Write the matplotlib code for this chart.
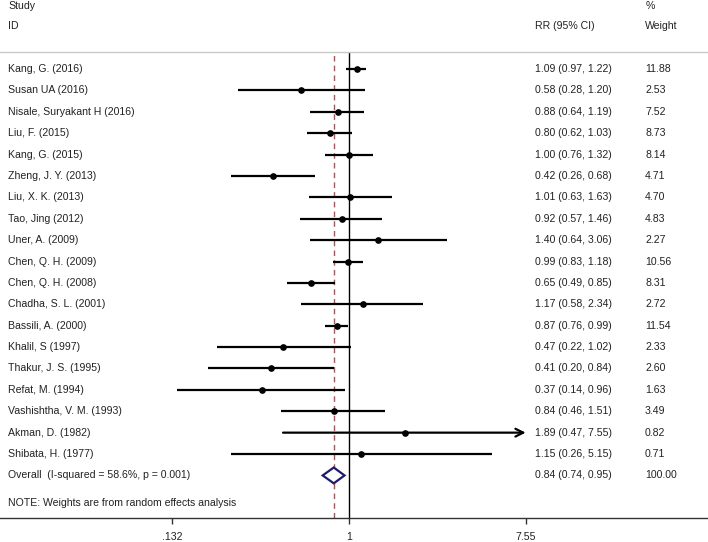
import matplotlib
matplotlib.use("Agg")
import matplotlib.pyplot as plt
import matplotlib.transforms as mtransforms
from matplotlib.patches import Polygon

plt.rcParams['font.family'] = ['Liberation Sans', 'DejaVu Sans']

studies = ["Kang, G. (2016)", "Susan UA (2016)", "Nisale, Suryakant H (2016)",
           "Liu, F. (2015)", "Kang, G. (2015)", "Zheng, J. Y. (2013)",
           "Liu, X. K. (2013)", "Tao, Jing (2012)", "Uner, A. (2009)",
           "Chen, Q. H. (2009)", "Chen, Q. H. (2008)", "Chadha, S. L. (2001)",
           "Bassili, A. (2000)", "Khalil, S (1997)", "Thakur, J. S. (1995)",
           "Refat, M. (1994)", "Vashishtha, V. M. (1993)", "Akman, D. (1982)",
           "Shibata, H. (1977)"]
rr = [1.09, 0.58, 0.88, 0.80, 1.00, 0.42, 1.01, 0.92, 1.40, 0.99, 0.65, 1.17,
      0.87, 0.47, 0.41, 0.37, 0.84, 1.89, 1.15]
lo = [0.97, 0.28, 0.64, 0.62, 0.76, 0.26, 0.63, 0.57, 0.64, 0.83, 0.49, 0.58,
      0.76, 0.22, 0.20, 0.14, 0.46, 0.47, 0.26]
hi = [1.22, 1.20, 1.19, 1.03, 1.32, 0.68, 1.63, 1.46, 3.06, 1.18, 0.85, 2.34,
      0.99, 1.02, 0.84, 0.96, 1.51, 7.55, 5.15]
weights = [11.88, 2.53, 7.52, 8.73, 8.14, 4.71, 4.70, 4.83, 2.27, 10.56, 8.31,
           2.72, 11.54, 2.33, 2.60, 1.63, 3.49, 0.82, 0.71]
overall_label = "Overall  (I-squared = 58.6%, p = 0.001)"
overall = (0.84, 0.74, 0.95, 100.00)
note = "NOTE: Weights are from random effects analysis"
tick_vals = [0.132, 1, 7.55]
tick_labels = [".132", "1", "7.55"]

W, H = 708, 542
fig = plt.figure(figsize=(W / 100, H / 100), dpi=100)
top_px, bot_px = 52, 518
ax = fig.add_axes([0, 1 - bot_px / H, 1, (bot_px - top_px) / H])
ax.set_xscale('log')
ax.set_xlim(0.01844, 60.8)
ax.set_ylim(20.99, -0.795)

fs = 7.6
tc = '#222222'
n = len(studies)

# CI lines and points
for i in range(n):
    if i == 17:
        ax.annotate('', xy=(hi[i], i), xytext=(lo[i], i),
                    arrowprops=dict(arrowstyle='->', lw=1.6, color='black',
                                    mutation_scale=14, shrinkA=0, shrinkB=0))
    else:
        ax.plot([lo[i], hi[i]], [i, i], color='black', lw=1.6, solid_capstyle='butt')
    ax.plot(rr[i], i, 'o', color='black', ms=3.8)

# Reference lines
ax.axvline(1, color='black', lw=1.0, zorder=1)
ax.axvline(overall[0], color='#9c5a5c', lw=1.0, ls=(0, (4, 3)), zorder=1)

# Diamond
oy = n
d = Polygon([[overall[1], oy], [overall[0], oy - 0.37], [overall[2], oy],
             [overall[0], oy + 0.37]], closed=True, fill=True, facecolor='white',
            edgecolor='#1c1c6e', lw=1.6, zorder=3)
ax.add_patch(d)

# Text columns (x in figure pixels / W)
trans = mtransforms.blended_transform_factory(fig.transFigure, ax.transData)
for i in range(n):
    ax.text(8 / W, i, studies[i], transform=trans, fontsize=fs, color=tc, va='center', ha='left')
    ax.text(535 / W, i, f"{rr[i]:.2f} ({lo[i]:.2f}, {hi[i]:.2f})", transform=trans,
            fontsize=fs, color=tc, va='center', ha='left')
    ax.text(645 / W, i, f"{weights[i]:.2f}", transform=trans, fontsize=fs, color=tc,
            va='center', ha='left')
ax.text(8 / W, oy, overall_label, transform=trans, fontsize=fs, color=tc, va='center')
ax.text(535 / W, oy, f"{overall[0]:.2f} ({overall[1]:.2f}, {overall[2]:.2f})",
        transform=trans, fontsize=fs, color=tc, va='center')
ax.text(645 / W, oy, f"{overall[3]:.2f}", transform=trans, fontsize=fs, color=tc, va='center')
ax.text(8 / W, 20.3, note, transform=trans, fontsize=fs, color=tc, va='center')

# Headers
def ftext(xp, yp, s):
    fig.text(xp / W, 1 - yp / H, s, fontsize=fs, color=tc, va='center', ha='left')
ftext(8, 6, "Study")
ftext(8, 26, "ID")
ftext(535, 26, "RR (95% CI)")
ftext(646, 6, "%")
ftext(645, 26, "Weight")

# Spines
for s in ['left', 'right']:
    ax.spines[s].set_visible(False)
ax.spines['top'].set_color('#c8c8c8')
ax.spines['top'].set_linewidth(1.0)
ax.spines['bottom'].set_color('#333333')
ax.spines['bottom'].set_linewidth(1.0)

ax.set_yticks([])
ax.xaxis.set_minor_locator(matplotlib.ticker.NullLocator())
ax.set_xticks(tick_vals)
ax.set_xticklabels(tick_labels)
ax.tick_params(axis='x', length=4, width=1, color='#333333', pad=6,
               labelsize=fs, labelcolor=tc)

fig.savefig('out.png', dpi=100)
